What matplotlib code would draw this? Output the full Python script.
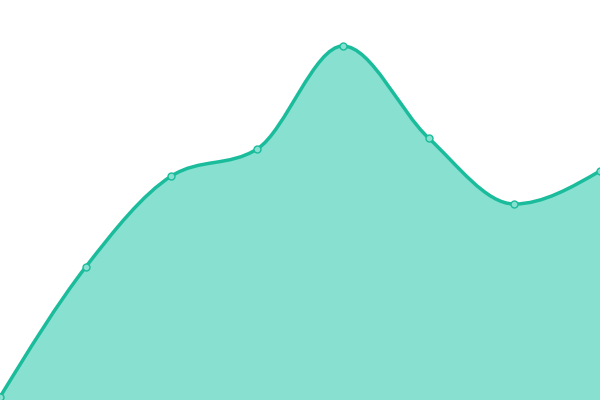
import numpy as np
import matplotlib
matplotlib.use("Agg")
import matplotlib.pyplot as plt
from matplotlib.path import Path
from matplotlib.patches import PathPatch

# values
xs = [0, 1, 2, 3, 4, 5, 6, 7]
values = [3, 133, 224, 251, 354, 262, 196, 229]

LINE = "#1abc9c"
FILL = "#88e0d0"


def monotone_tangents(x, y):
    # same rule as d3.curveMonotoneX
    n = len(x)
    h = np.diff(x).astype(float)
    s = np.diff(y) / h
    t = np.zeros(n)
    for i in range(1, n - 1):
        p = (s[i - 1] * h[i] + s[i] * h[i - 1]) / (h[i - 1] + h[i])
        t[i] = (np.sign(s[i - 1]) + np.sign(s[i])) * min(abs(s[i - 1]), abs(s[i]), 0.5 * abs(p))
    t[0] = (3 * s[0] - t[1]) / 2
    t[-1] = (3 * s[-1] - t[-2]) / 2
    return t


def curve_verts(x, y):
    t = monotone_tangents(x, y)
    verts = [(x[0], y[0])]
    codes = [Path.MOVETO]
    for i in range(len(x) - 1):
        dx = (x[i + 1] - x[i]) / 3
        verts += [(x[i] + dx, y[i] + dx * t[i]),
                  (x[i + 1] - dx, y[i + 1] - dx * t[i + 1]),
                  (x[i + 1], y[i + 1])]
        codes += [Path.CURVE4] * 3
    return verts, codes


fig = plt.figure(figsize=(6, 4), dpi=100)
ax = fig.add_axes([0, 0, 1, 1])
ax.set_xlim(xs[0], xs[-1])
ax.set_ylim(0, 400)
ax.axis("off")

verts, codes = curve_verts(np.array(xs), np.array(values, dtype=float))

area_verts = verts + [(xs[-1], 0), (xs[0], 0), (xs[0], values[0])]
area_codes = codes + [Path.LINETO, Path.LINETO, Path.CLOSEPOLY]
ax.add_patch(PathPatch(Path(area_verts, area_codes), facecolor=FILL, edgecolor="none"))
ax.add_patch(PathPatch(Path(verts, codes), facecolor="none", edgecolor=LINE, linewidth=2.5))

ax.plot(xs, values, "o", color=FILL, markeredgecolor=LINE, markersize=5, markeredgewidth=1)

fig.savefig("out.png", dpi=100)
